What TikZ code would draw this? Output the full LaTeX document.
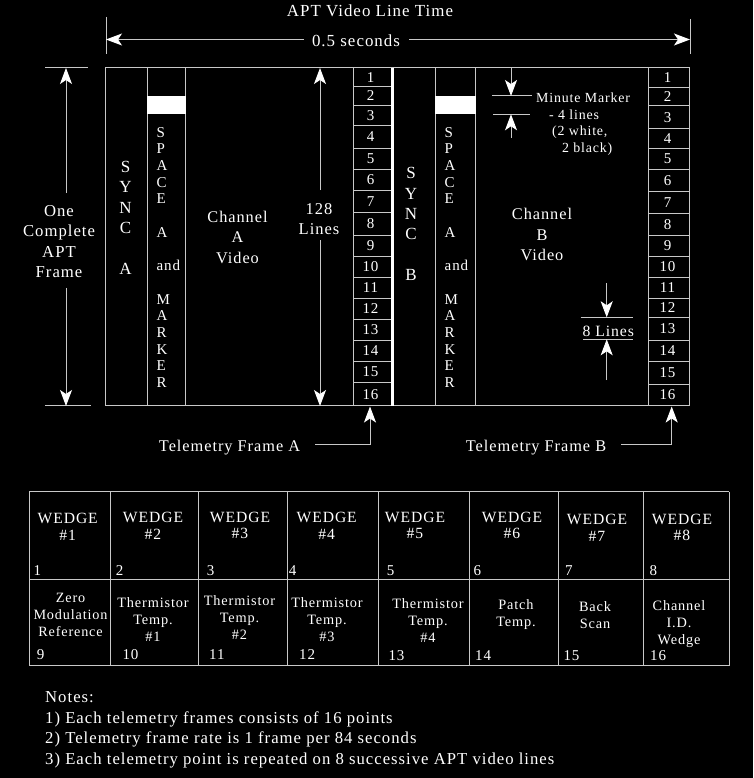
\documentclass[tikz,border=0pt]{standalone}
\usepackage{fontspec}
\setmainfont{Liberation Serif}[LetterSpace=6]
\usetikzlibrary{arrows.meta}
\definecolor{linec}{RGB}{200,200,200}
\newcommand{\myfs}[2]{\fontsize{#1}{#2}\selectfont}
\begin{document}
\begin{tikzpicture}[x=1pt,y=-1pt,
  ln/.style={draw=linec,line width=1pt},
  arr/.style={draw=linec,line width=1pt,-{Stealth[length=16pt,width=12pt,inset=4pt,color=white]}},
  lbl/.style={text=white,inner sep=0pt,align=center},
  lbll/.style={text=white,inner sep=0pt,align=left},
  num/.style={text=white,inner sep=0pt,font=\myfs{15}{15}},
]
\fill[black] (0,0) rectangle (753,778);
\useasboundingbox (0,0) rectangle (753,778);

% ---- top dimension ----
\node[lbl,font=\myfs{16.9}{18},anchor=base] (title) at (370,17) {APT Video Line Time};
\node[lbl,font=\myfs{16.9}{18},anchor=base] (dur) at (356,46.5) {0.5 seconds};
\coordinate (dL) at (106,39.5);
\coordinate (dR) at (690,39.5);
\draw[ln] (106,17) -- (106,54);
\draw[ln] (690,19) -- (690,54);
\draw[arr] ([xshift=-8pt]dur.west |- dL) -- (dL);
\draw[arr] ([xshift=9pt]dur.east |- dR) -- (dR);

% ---- frame ----
\foreach \xx in {105.3,147,185.7,353.3,435,475.7,648.7,689.3}
  \draw[ln] (\xx,67.7) -- (\xx,405.7);
\draw[ln] (105.3,67.7) -- (690,67.7);
\draw[ln] (105.3,405.7) -- (690,405.7);
\draw[white,line width=2.5pt] (392.3,67.7) -- (392.3,405.7);
\fill[white] (147,95.7) rectangle (185.7,114.3);
\fill[white] (435,95.7) rectangle (475.7,114.3);

% ---- left frame height ----
\node[lbl,font=\myfs{16.7}{20.3}] (frm) at (59,241.5) {One\\Complete\\APT\\Frame};
\coordinate (fT) at (66,68);
\coordinate (fB) at (66,406);
\draw[ln] (45,67.7) -- (88,67.7);
\draw[ln] (45,405.7) -- (91,405.7);
\draw[arr] ([yshift=12pt]frm.north -| fT) -- (fT);
\draw[arr] ([yshift=-10pt]frm.south -| fB) -- (fB);

% ---- 128 lines ----
\node[lbl,font=\myfs{16.5}{20}] (lines) at (319,219) {128\\Lines};
\coordinate (lT) at (320,68);
\coordinate (lB) at (320,406);
\draw[arr] ([yshift=13pt]lines.north -| lT) -- (lT);
\draw[arr] ([yshift=-5.5pt]lines.south -| lB) -- (lB);

% ---- columns A ----
\node[lbl,font=\myfs{17}{20.3}] (syncA) at (125.5,217.7) {S\\Y\\N\\C\\[20.3pt]A};
\node[lbll,font=\myfs{15}{16.7},anchor=north west] (spA) at (156.5,127)
  {S\\P\\A\\C\\E\\[16.7pt]A\\[16.7pt]and\\[16.7pt]M\\A\\R\\K\\E\\R};
\node[lbl,font=\myfs{16.3}{20.5}] (chA) at (237.5,237.3) {Channel\\A\\Video};

% ---- columns B ----
\node[lbl,font=\myfs{17}{20.3}] (syncB) at (411,223.9) {S\\Y\\N\\C\\[20.3pt]B};
\node[lbll,font=\myfs{15}{16.7},anchor=north west] (spB) at (444.5,127)
  {S\\P\\A\\C\\E\\[16.7pt]A\\[16.7pt]and\\[16.7pt]M\\A\\R\\K\\E\\R};
\node[lbl,font=\myfs{16.3}{20.5}] (chB) at (542,234.5) {Channel\\B\\Video};

% ---- minute marker ----
\node[lbll,font=\myfs{13.9}{16.5},anchor=north west] (mm) at (536,93)
  {Minute Marker\\\hspace*{13pt}- 4 lines\\\hspace*{16pt}(2 white,\\\hspace*{26pt}2 black)};
\coordinate (mA) at (511,96);
\coordinate (mB) at (511,114.3);
\draw[ln] (492,96) -- (532,96);
\draw[ln] (493,114.3) -- (530,114.3);
\draw[arr] (511,68) -- (mA);
\draw[arr] (511,138) -- (mB);

% ---- 8 lines ----
\node[lbl,font=\myfs{15.7}{16},anchor=base] (eight) at (608.3,336.5) {8 Lines};
\coordinate (eA) at (606.7,317.3);
\coordinate (eB) at (606.7,339.3);
\draw[ln] (580.7,317.3) -- (633,317.3);
\draw[ln] (583,339.3) -- (633,339.3);
\draw[arr] (606.7,283) -- (eA);
\draw[arr] (606.7,380) -- (eB);

% ---- telemetry columns ----
\foreach \yy in {86.3,105.3,125.7,148.3,169.3,190.5,212.3,235,256.7,277.3,298.3,319,340,361,382.3}
  \draw[ln] (353.3,\yy) -- (391,\yy);
\foreach \yy in {87.3,106,128.3,149,169.3,191.7,213.3,235,256.7,277.3,298.3,317.3,340,361.7,384}
  \draw[ln] (648.7,\yy) -- (689.3,\yy);
\foreach \n/\a/\b in {1/68/86.3,2/86.3/105.3,3/105.3/125.7,4/125.7/148.3,5/148.3/169.3,6/169.3/190.5,7/190.5/212.3,8/212.3/235,9/235/256.7,10/256.7/277.3,11/277.3/298.3,12/298.3/319,13/319/340,14/340/361,15/361/382.3,16/382.3/406}
  \node[num] (tA\n) at (370.5,{(\a+\b)/2}) {\n};
\foreach \n/\a/\b in {1/68/87.3,2/87.3/106,3/106/128.3,4/128.3/149,5/149/169.3,6/169.3/191.7,7/191.7/213.3,8/213.3/235,9/235/256.7,10/256.7/277.3,11/277.3/298.3,12/298.3/317.3,13/317.3/340,14/340/361.7,15/361.7/384,16/384/406}
  \node[num] (tB\n) at (667.5,{(\a+\b)/2}) {\n};

% ---- telemetry frame labels ----
\node[lbl,font=\myfs{16.3}{18},anchor=base] (tlmA) at (229.5,451.5) {Telemetry Frame A};
\node[lbl,font=\myfs{16.3}{18},anchor=base] (tlmB) at (536,451) {Telemetry Frame B};
\coordinate (tfA) at (370,444.3);
\coordinate (tfB) at (671.7,444.3);
\coordinate (tAend) at (370,406.5);
\coordinate (tBend) at (671.7,406.5);
\draw[arr] ([xshift=15pt]tlmA.east |- tfA) -- (tfA) -- (tAend);
\draw[arr] ([xshift=15pt]tlmB.east |- tfB) -- (tfB) -- (tBend);

% ---- table ----
\foreach \yy in {491.7,579,665.7}
  \draw[ln] (29,\yy) -- (729.3,\yy);
\foreach \xx in {29,110.3,198.3,287.3,378.3,469.3,558.3,643.3,729.3}
  \draw[ln] (\xx,491.7) -- (\xx,665.7);

\foreach \k/\xx/\yy in {1/67.7/526.7,2/153/525.5,3/240/525.5,4/326.7/525.5,5/415/525.5,6/512/525.5,7/597/527.5,8/682/527.5}
  \node[lbl,font=\myfs{15.6}{16.7}] (w\k) at (\xx,\yy) {WEDGE\\\#\k};

\foreach \k/\xx in {1/33.5,2/115.7,3/206.7,4/288.7,5/386.7,6/473.3,7/565,8/649.3}
  \node[num,anchor=base west] (n\k) at (\xx,575) {\k};
\foreach \k/\xx/\yy in {9/36.7/659,10/122.3/659,11/209/659,12/299/659,13/388.3/660,14/475/660,15/563.3/660,16/650/660}
  \node[num,anchor=base west] (n\k) at (\xx,\yy) {\k};

\node[lbl,font=\myfs{14.2}{17}] (b9) at (70.5,615) {Zero\\Modulation\\Reference};
\node[lbl,font=\myfs{14.3}{17}] (b10) at (153,620) {Thermistor\\Temp.\\\#1};
\node[lbl,font=\myfs{14.3}{17}] (b11) at (239.5,618) {Thermistor\\Temp.\\\#2};
\node[lbl,font=\myfs{14.3}{17}] (b12) at (327,620) {Thermistor\\Temp.\\\#3};
\node[lbl,font=\myfs{14.3}{17}] (b13) at (428,621) {Thermistor\\Temp.\\\#4};
\node[lbl,font=\myfs{14.3}{17}] (b14) at (516,614.5) {Patch\\Temp.};
\node[lbl,font=\myfs{14.3}{17}] (b15) at (595,615) {Back\\Scan};
\node[lbl,font=\myfs{14.3}{17}] (b16) at (679,624) {Channel\\I.D.\\Wedge};

% ---- notes ----
\node[lbll,font=\myfs{16.7}{20},anchor=base west] (nt0) at (45,702.5) {Notes:};
\node[lbll,font=\myfs{16.7}{20},anchor=base west] (nt1) at (45,723.2) {1) Each telemetry frames consists of 16 points};
\node[lbll,font=\myfs{16.7}{20},anchor=base west] (nt2) at (45,743.9) {2) Telemetry frame rate is 1 frame per 84 seconds};
\node[lbll,font=\myfs{16.7}{20},anchor=base west] (nt3) at (45,764.6) {3) Each telemetry point is repeated on 8 successive APT video lines};
\end{tikzpicture}
\end{document}
